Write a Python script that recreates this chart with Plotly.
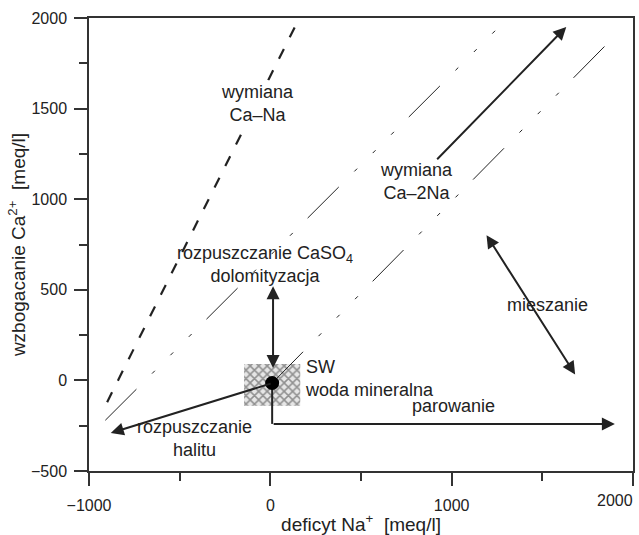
import plotly.graph_objects as go

# Reference lines
ca_na_x = [-900, 140]          # wymiana Ca–Na
ca_na_y = [-120, 1960]
upper_x = [-910, 1245]         # y = x + 690
upper_y = [-220, 1935]
one_one_x = [10, 1912]         # y = x
one_one_y = [-15, 1913]

# SW / woda mineralna
sw_x = [10]
sw_y = [-15]
box_x = [-145, 165, 165, -145, -145]
box_y = [-140, -140, 90, 90, -140]

# Process arrows: (tail_x, tail_y, head_x, head_y)
arrow_ca2na = (912, 1212, 1632, 1951)
arrow_caso4 = (15, 60, 15, 520)
arrow_mix = (1187, 810, 1681, 33)
arrow_halite = (10, -15, -880, -290)
evap_drop = (10, -15, 10, -240)
arrow_evap = (10, -240, 1900, -240)

# Labels
labels = [
    ("wymiana<br>Ca–Na", -70, 1530, "center"),
    ("rozpuszczanie CaSO<sub>4</sub><br>dolomityzacja", -30, 640, "center"),
    ("wymiana<br>Ca–2Na", 805, 1098, "center"),
    ("mieszanie", 1530, 414, "center"),
    ("SW<br>woda mineralna", 180, 10, "left"),
    ("rozpuszczanie<br>halitu", -420, -320, "center"),
    ("parowanie", 1010, -142, "center"),
]

x_ticks = [-1000, 0, 1000, 2000]
x_ticktext = ["−1000", "0", "1000", ""]   # last label placed inside the page edge
y_range = [-500, 2000]
x_range = [-1000, 2000]

INK = "#222222"
FONT = "Liberation Sans, Arial, sans-serif"

fig = go.Figure()

fig.add_trace(go.Scatter(
    x=box_x, y=box_y, mode="lines", fill="toself",
    line=dict(width=0),
    fillcolor="rgba(0,0,0,0)",
    fillpattern=dict(shape="x", fgcolor="#3a3a3a", bgcolor="#e6e6e6",
                     size=6, solidity=0.45),
    hoverinfo="skip", showlegend=False,
))

dashdot = "44px,22px,4px,22px,4px,22px,4px,21px"
fig.add_trace(go.Scatter(x=upper_x, y=upper_y, mode="lines",
                         line=dict(color=INK, width=1, dash=dashdot),
                         showlegend=False, hoverinfo="skip"))
fig.add_trace(go.Scatter(x=one_one_x, y=one_one_y, mode="lines",
                         line=dict(color=INK, width=1, dash=dashdot),
                         showlegend=False, hoverinfo="skip"))
fig.add_trace(go.Scatter(x=ca_na_x, y=ca_na_y, mode="lines",
                         line=dict(color=INK, width=2.2, dash="11px,13px"),
                         showlegend=False, hoverinfo="skip"))

fig.add_trace(go.Scatter(x=[evap_drop[0], evap_drop[2]], y=[evap_drop[1], evap_drop[3]],
                         mode="lines", line=dict(color=INK, width=2),
                         showlegend=False, hoverinfo="skip"))

fig.add_trace(go.Scatter(x=sw_x, y=sw_y, mode="markers",
                         marker=dict(color="black", size=14),
                         showlegend=False, hoverinfo="skip"))

def arrow(a, both=False):
    tx, ty, hx, hy = a
    d = dict(x=hx, y=hy, ax=tx, ay=ty, xref="x", yref="y", axref="x", ayref="y",
             text="", showarrow=True, arrowhead=2, arrowsize=1.3, arrowwidth=2,
             arrowcolor=INK, standoff=0, startstandoff=0)
    if both:
        d.update(arrowside="end+start", startarrowhead=2, startarrowsize=1.3)
    fig.add_annotation(**d)

arrow(arrow_ca2na)
arrow(arrow_caso4, both=True)
arrow(arrow_mix, both=True)
arrow(arrow_halite)
arrow(arrow_evap)

for text, x, y, align in labels:
    fig.add_annotation(
        x=x, y=y, xref="x", yref="y", text=text, showarrow=False,
        xanchor="left" if align == "left" else "center", align=align,
        font=dict(family=FONT, size=18, color=INK),
        bgcolor="white" if text.startswith("wymiana<br>Ca–Na") else None,
    )

# right-most x tick label, kept inside the page
fig.add_annotation(
    x=x_ticks[-1], y=0, xref="x", yref="paper", text=str(x_ticks[-1]),
    showarrow=False, xanchor="right", yanchor="top", xshift=2, yshift=-19,
    font=dict(family=FONT, size=16, color=INK),
)

axis_common = dict(
    showline=True, linecolor="#333333", linewidth=1.5, mirror=True,
    ticks="outside", ticklen=13, tickwidth=1.5, tickcolor="#333333",
    showgrid=False, zeroline=False,
    tickfont=dict(family=FONT, size=16, color=INK),
)

fig.update_xaxes(
    range=x_range, tickmode="array", tickvals=x_ticks, ticktext=x_ticktext,
    minor=dict(ticks="outside", ticklen=8, dtick=500, tick0=0,
               tickcolor="#333333", tickwidth=1.5),
    title=dict(text="deficyt Na<sup>+</sup>  [meq/l]",
               font=dict(family=FONT, size=19, color=INK), standoff=4),
    ticklabelstandoff=6,
    **axis_common,
)
fig.update_yaxes(
    range=y_range, dtick=500, tick0=0,
    minor=dict(ticks="outside", ticklen=8, dtick=250, tick0=0,
               tickcolor="#333333", tickwidth=1.5),
    title=dict(text="wzbogacanie Ca<sup>2+</sup>  [meq/l]",
               font=dict(family=FONT, size=19, color=INK), standoff=0),
    ticklabelstandoff=4,
    **axis_common,
)

fig.update_layout(
    width=639, height=535,
    margin=dict(l=89, r=4, t=18, b=57),
    paper_bgcolor="white", plot_bgcolor="white",
    showlegend=False,
)

fig.write_html("out.html")
